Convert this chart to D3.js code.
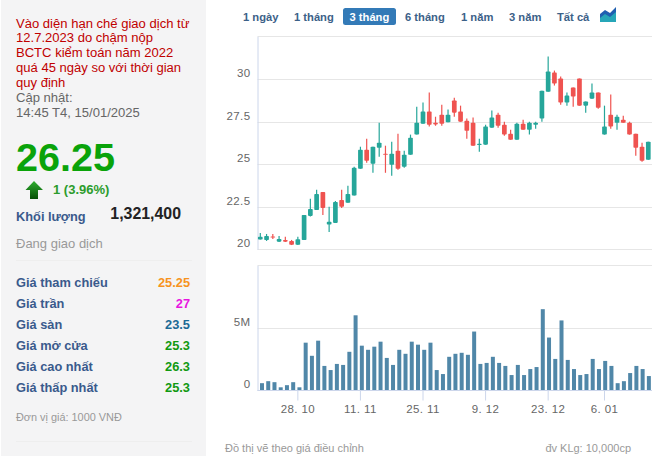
<!DOCTYPE html>
<html><head><meta charset="utf-8">
<script src="https://cdn.jsdelivr.net/npm/d3@7"></script>
<style>
html,body{margin:0;padding:0;background:#fff;overflow:hidden}
svg{display:block}
text{font-family:"Liberation Sans",Arial,sans-serif}
</style></head><body><svg id="c" width="652" height="456"></svg>
<script>
const sessions=["18.10","21.10","22.10","23.10","24.10","25.10","28.10","29.10","30.10","31.10","1.11","4.11","5.11","6.11","7.11","8.11","11.11","12.11","13.11","14.11","15.11","18.11","19.11","20.11","21.11","22.11","25.11","26.11","27.11","28.11","29.11","2.12","3.12","4.12","5.12","6.12","9.12","10.12","11.12","12.12","13.12","16.12","17.12","18.12","19.12","20.12","23.12","24.12","25.12","26.12","27.12","30.12","31.12","2.01","3.01","6.01","7.01","8.01","9.01","10.01","13.01","14.01","15.01"];
const open=[20.57,20.55,20.75,20.45,20.55,20.49,20.27,20.55,21.96,22.31,23.37,21.45,21.55,22.90,22.73,23.16,24.73,25.84,25.02,25.96,25.61,24.96,25.78,24.84,25.55,26.73,27.37,28.08,27.43,27.90,27.45,28.73,28.08,27.55,27.43,26.12,26.14,27.14,27.90,27.31,26.78,26.43,27.37,27.02,27.31,27.67,29.25,30.37,30.02,28.61,29.49,30.02,28.43,28.84,29.20,26.73,27.90,27.43,27.61,27.43,26.78,26.02,25.25];
const close=[20.73,20.78,20.71,20.61,20.45,20.27,20.59,22.02,22.37,23.25,22.43,21.61,22.78,22.49,23.25,24.78,25.84,25.20,26.02,26.25,25.57,25.61,24.73,25.55,26.55,27.43,28.08,27.31,27.33,27.37,27.90,28.02,27.49,26.96,26.08,26.20,27.20,27.73,27.25,26.73,26.43,27.37,27.02,27.43,27.43,29.31,30.43,29.73,28.61,29.02,28.96,28.43,28.67,29.20,28.31,27.20,27.20,27.78,27.43,26.73,25.96,25.20,26.31];
const high=[20.96,20.90,20.90,20.78,20.73,20.55,20.73,22.02,22.96,23.49,23.37,22.49,22.84,23.49,23.73,24.84,26.02,26.49,26.02,27.43,26.08,26.31,26.78,25.78,26.73,28.37,28.61,29.20,27.78,28.49,28.20,28.90,28.43,27.67,27.73,26.49,27.31,28.14,28.02,27.49,27.02,27.43,27.61,27.49,27.49,29.31,31.31,30.49,30.14,29.20,29.49,30.02,28.67,29.73,29.20,28.43,29.08,27.90,27.84,27.49,26.78,26.25,26.31];
const low=[20.57,20.49,20.61,20.43,20.43,20.25,20.25,20.55,21.92,22.31,22.02,21.02,21.55,22.43,22.73,23.16,24.73,25.08,24.49,25.43,24.49,24.31,24.67,24.78,25.55,26.73,27.37,27.20,27.25,27.25,27.45,27.78,27.49,26.49,26.08,25.73,26.14,27.14,27.14,26.67,26.43,26.43,27.02,26.73,27.08,27.49,29.25,29.61,28.49,28.43,28.37,28.43,28.02,28.84,28.25,26.73,27.08,27.02,27.43,26.73,25.49,25.14,25.25];
const volume=[.57,.73,.65,.24,.41,.65,.24,3.81,2.76,3.97,1.95,1.62,2.11,2.03,3.08,6.0,3.57,3.24,3.49,3.89,2.59,2.03,3.24,2.92,3.89,3.65,3.24,3.81,1.62,1.30,2.68,2.92,3.0,2.84,4.70,2.11,2.19,2.68,2.19,1.95,1.22,2.03,1.22,1.70,1.86,6.49,4.22,2.51,5.59,2.43,1.70,1.22,1.30,2.51,1.70,2.35,1.95,.57,.73,1.38,1.95,1.70,1.14];
const priceTicks=[20,22.5,25,27.5,30,32.5];
const volumeTicks=[0,5,10];
const dateTicks={"28.10":"28. 10","11.11":"11. 11","25.11":"25. 11","9.12":"9. 12","23.12":"23. 12","6.01":"6. 01"};
const ranges=["1 ngày","1 tháng","3 tháng","6 tháng","1 năm","3 năm","Tất cả"];
const rangeX=[243,294,349.5,405,461,509,557];
const notice=["Vào diện hạn chế giao dịch từ","12.7.2023 do chậm nộp","BCTC kiểm toán năm 2022","quá 45 ngày so với thời gian","quy định"];
const stats=[["Giá tham chiếu","25.25","#f7931e"],["Giá trần","27","#e815e0"],["Giá sàn","23.5","#1c6a96"],["Giá mở cửa","25.3","#119911"],["Giá cao nhất","26.3","#119911"],["Giá thấp nhất","25.3","#119911"]];

const svg=d3.select("#c");
const UP="#26a69a",DOWN="#ef5350",GRID="#e6e6e6",AXIS="#ccd6eb",LABEL="#666666";

/* left panel */
svg.append("rect").attr("x",1).attr("y",0).attr("width",205).attr("height",456).attr("fill","#f4f4f5");
const T=(x,y,s,size,fill,weight,anchor)=>svg.append("text").attr("x",x).attr("y",y).text(s).attr("font-size",size).attr("fill",fill).attr("font-weight",weight||"normal").attr("text-anchor",anchor||"start");
notice.forEach((s,i)=>T(16,27.5+i*14.75,s,13.05,"#c00000"));
T(16,102,"Cập nhật:",13.05,"#666");
T(16,117,"14:45 T4, 15/01/2025",13.05,"#666");
T(16,171,"26.25",39.6,"#0aa30a","bold");
const g0=svg.append("defs").append("linearGradient").attr("id","ar").attr("x1",0).attr("x2",0).attr("y1",0).attr("y2",1);
g0.append("stop").attr("offset",0).attr("stop-color","#2fae2f");g0.append("stop").attr("offset",1).attr("stop-color","#064f06");
svg.append("path").attr("d","M34 181 L43 190 L38 190 L38 199 L30 199 L30 190 L25.5 190 Z").attr("fill","url(#ar)");
T(53,194,"1 (3.96%)",13,"#2c9c2c","bold");
T(16,221,"Khối lượng",12.8,"#3a5a8c","bold");
T(181,219,"1,321,400",15.9,"#222","bold","end");
T(16,248,"Đang giao dịch",13,"#999");
svg.append("line").attr("x1",16).attr("x2",192).attr("y1",260.5).attr("y2",260.5).attr("stroke","#eeeeee");
stats.forEach((r,i)=>{const y=287+i*20.9;
 T(16,y,r[0],12.8,"#3a5a8c","bold");
 T(190,y,r[1],12.8,r[2],"bold","end");});
T(16,421,"Đơn vị giá: 1000 VNĐ",10.9,"#999");
svg.append("line").attr("x1",16).attr("x2",192).attr("y1",441.5).attr("y2",441.5).attr("stroke","#eeeeee");

/* range buttons */
svg.append("rect").attr("x",343).attr("y",8).attr("width",53).attr("height",17).attr("rx",2.5).attr("fill","#337ab7");
ranges.forEach((s,i)=>T(rangeX[i],20.5,s,11.2,i==2?"#ffffff":"#3c6188","bold"));
svg.append("path").attr("d","M600 14 L605 10 L610 13 L616 7 L616 22 L600 22 Z").attr("fill","#1f5fb0");
svg.append("path").attr("d","M600 18 L605 14 L610 17 L616 12 L616 22 L600 22 Z").attr("fill","#26a6b8");

/* scales */
const step=6.258;
const xP=d3.scaleBand().domain(sessions).range([260.3-step/2,260.3-step/2+step*63]).paddingInner(0.25).paddingOuter(0.125);
const xV=d3.scaleBand().domain(sessions).range([262-step/2,262-step/2+6.24*63]).paddingInner(0.36).paddingOuter(0.18);
const yP=d3.scaleLinear().domain([20,32.5]).range([249.3,36.3]);
const yV=d3.scaleLinear().domain([0,10]).range([390.3,265.3]);

/* grids + axes */
const grid=(scale,ticks)=>svg.append("g").selectAll("line").data(ticks).join("line")
 .attr("x1",257.5).attr("x2",652).attr("y1",d=>Math.round(scale(d))+.5).attr("y2",d=>Math.round(scale(d))+.5).attr("stroke",GRID);
grid(yP,priceTicks);grid(yV,volumeTicks);
const axL=(scale,ticks,fmt,dy)=>{const g=svg.append("g").attr("transform","translate(257.5,0)")
 .call(d3.axisLeft(scale).tickValues(ticks).tickFormat(fmt).tickSize(0).tickPadding(7));
 g.select(".domain").attr("stroke",AXIS);
 g.selectAll("text").attr("font-size",11.5).attr("fill",LABEL).attr("font-family","'Liberation Sans'").attr("dy",dy).style("letter-spacing","0.4px");return g;};
axL(yP,priceTicks.slice(0,5),d=>d,"-2.4px");
axL(yV,volumeTicks.slice(0,2),d=>d?d+"M":"0","-2.6px");

/* candles */
const ci=sessions.map((d,i)=>i);
const cx=i=>xP(sessions[i])+xP.bandwidth()/2;
svg.append("g").selectAll("line").data(ci).join("line")
 .attr("x1",cx).attr("x2",cx).attr("y1",i=>yP(high[i])).attr("y2",i=>yP(low[i]))
 .attr("stroke",i=>close[i]>=open[i]?UP:DOWN).attr("stroke-width",1.2);
svg.append("g").selectAll("rect").data(ci).join("rect")
 .attr("x",i=>xP(sessions[i])).attr("width",xP.bandwidth())
 .attr("y",i=>yP(Math.max(open[i],close[i])))
 .attr("height",i=>Math.max(1,Math.abs(yP(open[i])-yP(close[i]))))
 .attr("rx",.8).attr("fill",i=>close[i]>=open[i]?UP:DOWN);

/* volume */
svg.append("g").selectAll("rect").data(ci).join("rect")
 .attr("x",i=>xV(sessions[i])).attr("width",xV.bandwidth())
 .attr("y",i=>yV(volume[i])).attr("height",i=>yV(0)-yV(volume[i])).attr("fill","#5087a8");

/* date axis */
const ax=svg.append("g").attr("transform","translate(0,390.5)")
 .call(d3.axisBottom(xP).tickValues(Object.keys(dateTicks)).tickFormat(d=>dateTicks[d]).tickSize(10).tickPadding(4).tickSizeOuter(0));
ax.select(".domain").attr("stroke",AXIS).attr("d","M257.5,0H652");
ax.selectAll("line").attr("stroke",AXIS);
ax.selectAll("text").attr("font-size",11.5).attr("fill",LABEL).attr("font-family","'Liberation Sans'").style("letter-spacing","0.4px");

T(225,452,"Đồ thị vẽ theo giá điều chỉnh",11,"#999");
T(631,452,"đv KLg: 10,000cp",11,"#999","normal","end");
</script></body></html>
